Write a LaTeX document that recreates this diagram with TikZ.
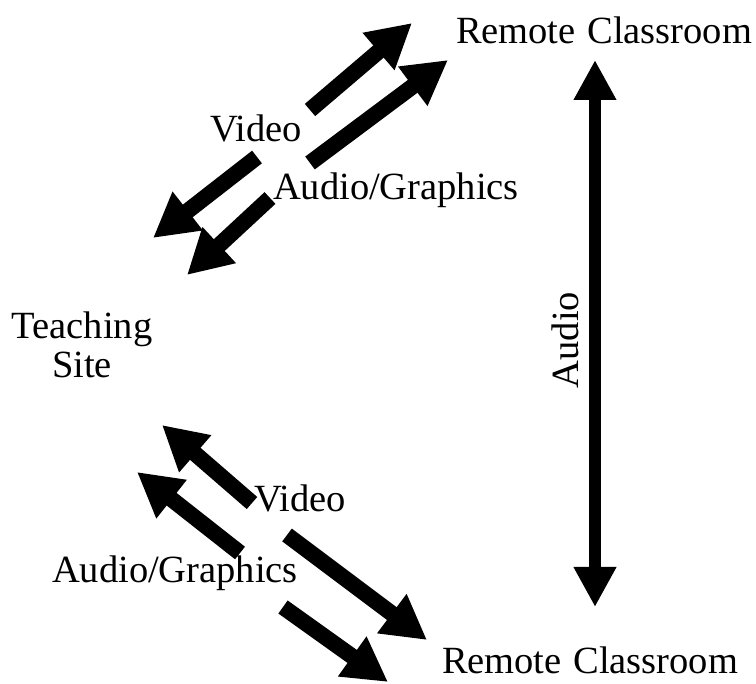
\documentclass[tikz,border=0pt]{standalone}
\usepackage{fontspec}
\setmainfont{Liberation Serif}
\usetikzlibrary{arrows.meta}
\begin{document}
\begin{tikzpicture}[x=1pt,y=-1pt,
  lbl/.style={font=\fontsize{38.5}{43}\selectfont, inner sep=0pt, align=center},
  fat/.style={line width=16pt, -{Triangle[length=44pt,width=46pt]}},
  audioarrow/.style={line width=12pt, {Triangle[length=40pt,width=40pt]}-{Triangle[length=40pt,width=40pt]}}]
\useasboundingbox (0,0) rectangle (756,684);
% labels
\node[lbl] (rc1) at (604,30) {Remote\hspace{0.3em}Classroom};
\node[lbl] (rc2) at (590,660) {Remote\hspace{0.3em}Classroom};
\node[lbl] (ts) at (82,345) {Teaching\\[-4pt]Site};
\node[lbl] (v1) at (256,128) {Video};
\node[lbl] (ag1) at (396,190) {Audio/Graphics};
\node[lbl] (v2) at (300,498) {Video};
\node[lbl] (ag2) at (175,573) {Audio/Graphics};
\node[lbl, rotate=90] (au) at (565,340) {Audio};
% coordinates
\coordinate (v1a) at (310,110); \coordinate (v1b) at (412,23);
\coordinate (v1c) at (257,157); \coordinate (v1d) at (153,238);
\coordinate (ag1a) at (310,163); \coordinate (ag1b) at (448,60);
\coordinate (ag1c) at (270,198); \coordinate (ag1d) at (187,275);
\coordinate (v2a) at (252,503); \coordinate (v2b) at (162,425);
\coordinate (ag2a) at (240,553); \coordinate (ag2b) at (137,472);
\coordinate (v2c) at (287,535); \coordinate (v2d) at (427,640);
\coordinate (ag2c) at (283,607); \coordinate (ag2d) at (388,682);
\coordinate (aut) at (595,60); \coordinate (aub) at (595,607);
% arrows
\draw[fat] (v1a) -- (v1b);
\draw[fat] (v1c) -- (v1d);
\draw[fat] (ag1a) -- (ag1b);
\draw[fat] (ag1c) -- (ag1d);
\draw[fat] (v2a) -- (v2b);
\draw[fat] (ag2a) -- (ag2b);
\draw[fat] (v2c) -- (v2d);
\draw[fat] (ag2c) -- (ag2d);
\draw[audioarrow] (aut) -- (aub);
\end{tikzpicture}
\end{document}
